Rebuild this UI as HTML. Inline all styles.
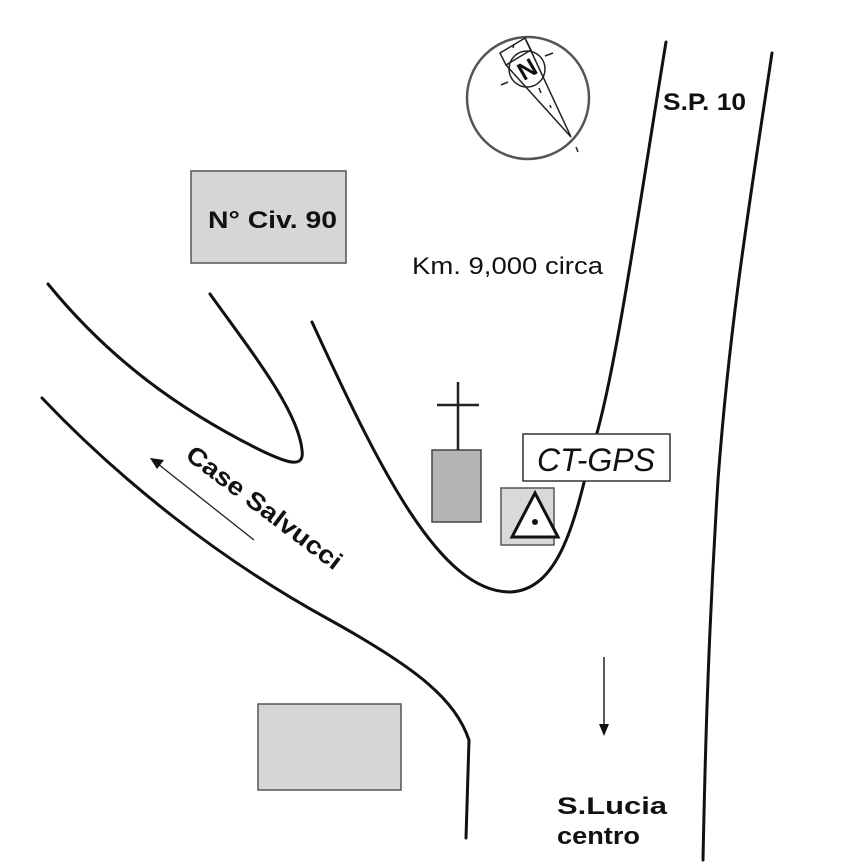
<!DOCTYPE html>
<html><head><style>
html,body{margin:0;padding:0;background:#fff;}
svg{display:block;}
text{font-family:"Liberation Sans",Arial,sans-serif;fill:#111;}
</style></head><body>
<svg width="866" height="866" viewBox="0 0 866 866" xmlns="http://www.w3.org/2000/svg">
<g fill="none" stroke="#111" stroke-width="3" stroke-linecap="round">
<path d="M666,42 C640,200 615,380 592,450 C575,520 560,590 510,592 C440,592 380,470 312,322"/>
<path d="M772,53 C750,200 730,320 718,480 C708,640 705,760 703,860"/>
<path d="M48,284 C110,360 180,410 260,450 C285,462 305,470 302,450 C298,410 250,350 210,294"/>
<path d="M42,398 C120,480 220,560 330,620 C420,670 455,700 469,740 L466,838"/>
</g>
<circle cx="528" cy="98" r="61" fill="none" stroke="#555" stroke-width="2.5"/>
<g fill="none" stroke="#222" stroke-width="1.5">
<circle cx="527" cy="69" r="18"/>
<polygon points="500,53 525,38 531,50 506,65"/>
<line x1="506" y1="65" x2="571" y2="137"/>
<line x1="525" y1="38" x2="571" y2="137"/>
<line x1="513" y1="48" x2="514" y2="44"/>
<line x1="545" y1="56" x2="553" y2="53"/>
<line x1="508" y1="82" x2="501" y2="85"/>
<line x1="539" y1="88" x2="541" y2="93"/>
<line x1="550" y1="105" x2="551" y2="108"/>
<line x1="576" y1="147" x2="578" y2="152"/>
</g>
<text x="527" y="78" font-size="25" font-weight="bold" text-anchor="middle" transform="rotate(-30 527 69)">N</text>
<rect x="191" y="171" width="155" height="92" fill="#d6d6d6" stroke="#555" stroke-width="1.5"/>
<text x="208" y="228" font-size="24" font-weight="bold" textLength="129" lengthAdjust="spacingAndGlyphs">N° Civ. 90</text>
<rect x="258" y="704" width="143" height="86" fill="#d6d6d6" stroke="#555" stroke-width="1.5"/>
<rect x="432" y="450" width="49" height="72" fill="#b5b5b5" stroke="#444" stroke-width="1.5"/>
<line x1="458" y1="382" x2="458" y2="450" stroke="#222" stroke-width="2.5"/>
<line x1="437" y1="405" x2="479" y2="405" stroke="#222" stroke-width="2.5"/>
<rect x="501" y="488" width="53" height="57" fill="#d9d9d9" stroke="#555" stroke-width="1.5"/>
<polygon points="512,537 535,493 558,537" fill="#fff" stroke="#111" stroke-width="3"/>
<circle cx="535" cy="522" r="3" fill="#111"/>
<rect x="523" y="434" width="147" height="47" fill="#fff" stroke="#333" stroke-width="1.5"/>
<text x="596" y="471" font-size="32" font-style="italic" text-anchor="middle">CT-GPS</text>
<text x="663" y="110" font-size="24" font-weight="bold" textLength="83" lengthAdjust="spacingAndGlyphs">S.P. 10</text>
<text x="412" y="274" font-size="24" textLength="191" lengthAdjust="spacingAndGlyphs">Km. 9,000 circa</text>
<text x="557" y="814" font-size="24" font-weight="bold" textLength="110" lengthAdjust="spacingAndGlyphs">S.Lucia</text>
<text x="557" y="844" font-size="24" font-weight="bold" textLength="83" lengthAdjust="spacingAndGlyphs">centro</text>
<text x="264" y="516" font-size="25" font-weight="bold" text-anchor="middle" textLength="188" lengthAdjust="spacingAndGlyphs" transform="rotate(37 264 508)">Case Salvucci</text>
<line x1="254" y1="540" x2="158" y2="464" stroke="#222" stroke-width="1.3"/>
<polygon points="150,458 164,460 157,469" fill="#111"/>
<line x1="604" y1="657" x2="604" y2="725" stroke="#222" stroke-width="1.5"/>
<polygon points="599,724 609,724 604,736" fill="#111"/>
</svg>
</body></html>
